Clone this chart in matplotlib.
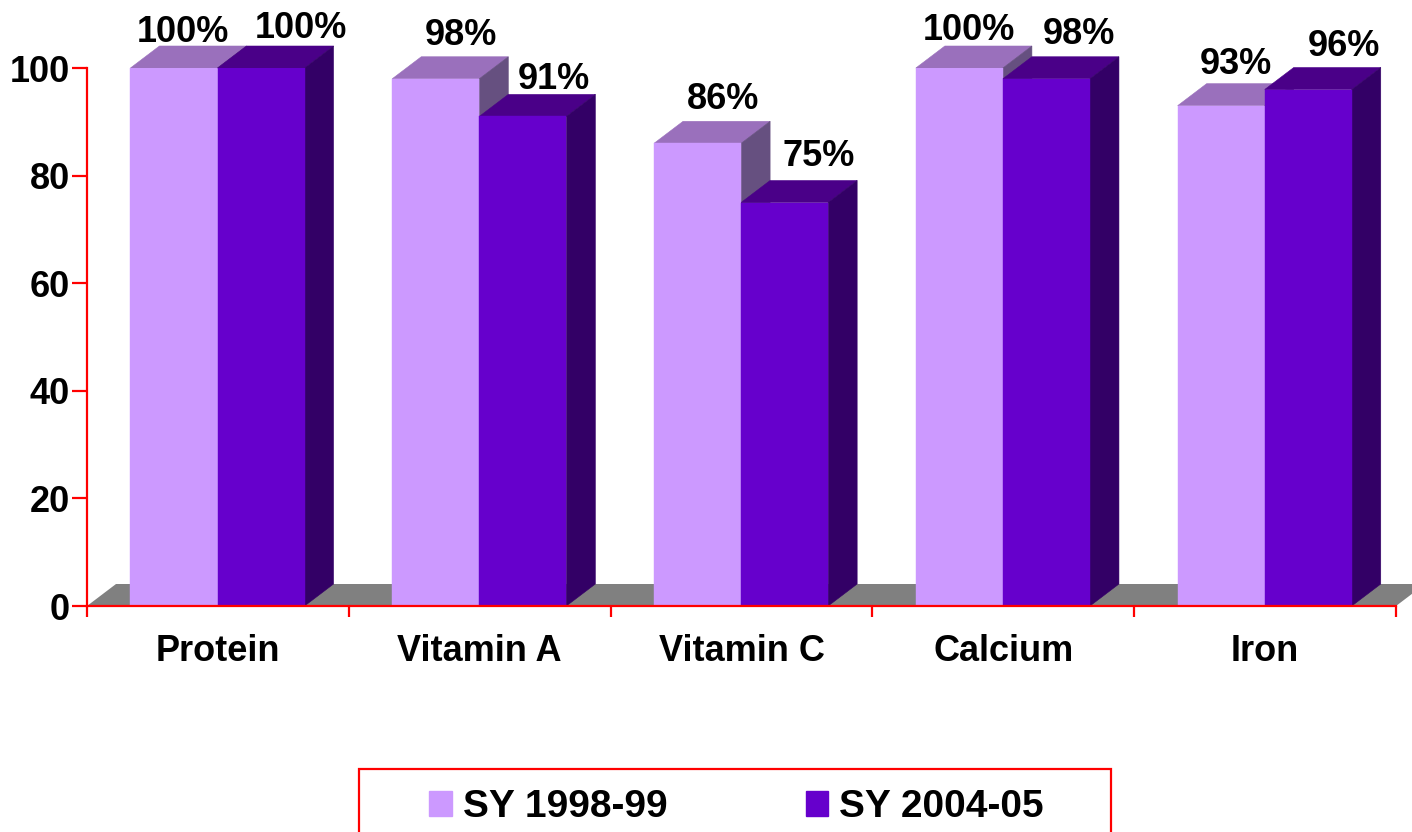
import matplotlib
matplotlib.use("Agg")
import matplotlib.pyplot as plt
from matplotlib.patches import Polygon, Patch, Rectangle

plt.rcParams['font.family'] = ['Liberation Sans', 'DejaVu Sans']
plt.rcParams['font.weight'] = 'bold'

# data
categories = ["Protein", "Vitamin A", "Vitamin C", "Calcium", "Iron"]
sy_1998 = [100, 98, 86, 100, 93]
sy_2004 = [100, 91, 75, 98, 96]
series_names = ["SY 1998-99", "SY 2004-05"]
y_ticks = [0, 20, 40, 60, 80, 100]

# label nudges in pixels, from the middle of the bar's front top edge
nudge_1998 = [(8.5, 36), (25, 43), (25, 44), (10, 37), (15, 41)]
nudge_2004 = [(39.5, 40), (31, 37), (34.5, 46), (32.5, 44), (35.5, 43)]

# colours
light = "#CC99FF"
light_top = "#9A70BC"
light_side = "#665080"
dark = "#6600CC"
dark_top = "#4A0088"
dark_side = "#330066"
floor = "#808080"
red = "#FF0000"

W, H = 1412, 832
fig = plt.figure(figsize=(W / 100, H / 100), dpi=100, facecolor="white")
ax = fig.add_axes([87 / W, 1 - 606 / H, (1396 - 87) / W, (606 - 68) / H])
ax.set_xlim(0, 5)
ax.set_ylim(0, 100)
ax.patch.set_alpha(0)

bar_w = 0.3325
gap = 0.166
depth_x = 29 / 261.8
depth_y = 22 / 5.38


def bar3d(x, v, front, top, side, z):
    x1 = x + bar_w
    # thin edge in the fill colour hides the seams between the faces
    ax.add_patch(Polygon([(x, v), (x1, v), (x1 + depth_x, v + depth_y), (x + depth_x, v + depth_y)],
                         closed=True, fc=top, ec=top, lw=0.4, zorder=z, clip_on=False))
    ax.add_patch(Polygon([(x1, 0), (x1, v), (x1 + depth_x, v + depth_y), (x1 + depth_x, depth_y)],
                         closed=True, fc=side, ec=side, lw=0.4, zorder=z, clip_on=False))
    ax.bar(x, v, width=bar_w, align="edge", color=front, edgecolor=front, linewidth=0.3, zorder=z + 0.2)


# grey floor behind the bars
ax.add_patch(Polygon([(0, 0), (5, 0), (5 + depth_x, depth_y), (depth_x, depth_y)],
                     closed=True, fc=floor, ec="none", zorder=1, clip_on=False))

for i in range(len(categories)):
    x0 = i + gap
    x1 = x0 + bar_w
    bar3d(x0, sy_1998[i], light, light_top, light_side, 2)
    bar3d(x1, sy_2004[i], dark, dark_top, dark_side, 3)
    for x, v, n in ((x0, sy_1998[i], nudge_1998[i]), (x1, sy_2004[i], nudge_2004[i])):
        ax.annotate("%d%%" % v, xy=(x + bar_w / 2, v), xytext=n, textcoords="offset pixels",
                    ha="center", va="center", fontsize=26, fontweight="bold", color="black",
                    annotation_clip=False, zorder=6)

# axes
for s in ["top", "right"]:
    ax.spines[s].set_visible(False)
for s in ["left", "bottom"]:
    ax.spines[s].set_color(red)
    ax.spines[s].set_linewidth(1.6)
    ax.spines[s].set_zorder(5)

ax.set_yticks(y_ticks)
ax.tick_params(axis="y", length=10.8, width=1.6, color=red, pad=1.5, labelsize=26)
ax.set_xticks(range(len(categories) + 1))
ax.set_xticklabels([])
ax.tick_params(axis="x", which="major", length=8, width=1.6, color=red)
ax.set_xticks([i + 0.5 for i in range(len(categories))], minor=True)
ax.set_xticklabels(categories, minor=True, fontsize=26, fontweight="bold")
ax.tick_params(axis="x", which="minor", length=0, pad=20)
for t in ax.get_yticklabels():
    t.set_fontweight("bold")

# legend box runs off the bottom of the picture
fig.add_artist(Rectangle((359 / W, -0.05), (1111 - 359) / W, 1 - 769 / H + 0.05,
                         transform=fig.transFigure, fc="white", ec=red, lw=1.6))
handles = [Patch(color=light), Patch(color=dark)]
fig.legend(handles, series_names, ncol=2, loc="center left", frameon=False,
           bbox_to_anchor=(429 / W, 1 - 807 / H), borderaxespad=0, borderpad=0,
           prop={"size": 28, "weight": "bold"},
           handlelength=0.59, handleheight=0.62, handletextpad=0.28, columnspacing=3.55)

fig.savefig("out.png", dpi=100)
